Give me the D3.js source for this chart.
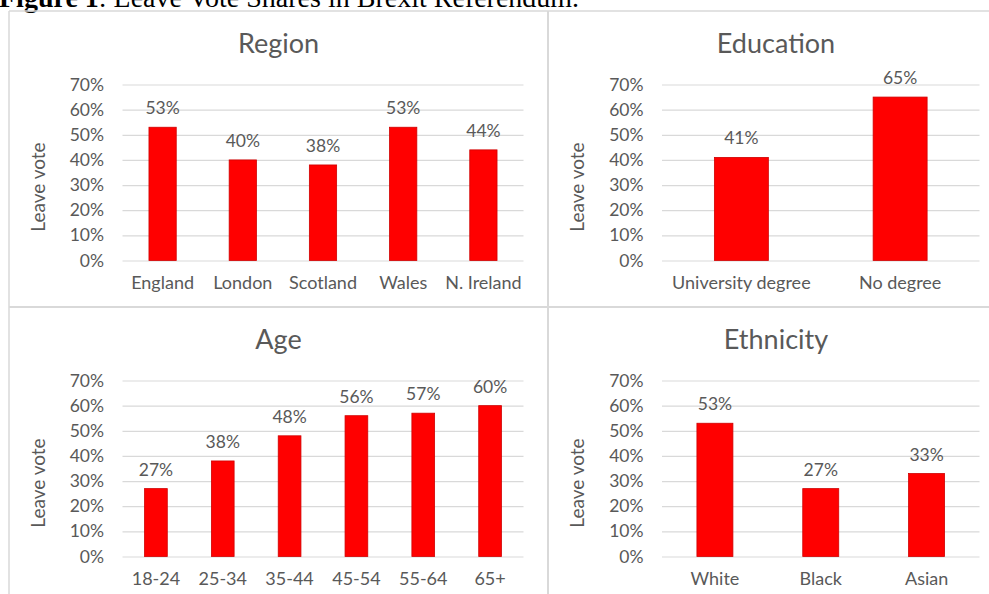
<!DOCTYPE html>
<html>
<head>
<meta charset="utf-8">
<script src="https://cdn.jsdelivr.net/npm/d3@7"></script>
<style>
  body { margin: 0; background: #fff; }
  svg { display: block; }
</style>
</head>
<body>
<div id="chart"></div>
<script>
// chart values
const regionCats = ["England", "London", "Scotland", "Wales", "N. Ireland"];
const regionVals = [53, 40, 38, 53, 44];
const eduCats = ["University degree", "No degree"];
const eduVals = [41, 65];
const ageCats = ["18-24", "25-34", "35-44", "45-54", "55-64", "65+"];
const ageVals = [27, 38, 48, 56, 57, 60];
const ethCats = ["White", "Black", "Asian"];
const ethVals = [53, 27, 33];
const yTicks = [0, 10, 20, 30, 40, 50, 60, 70];

let width = 989;
let height = 594;
let textColor = "#595959";
let font = "Lato, 'Open Sans', sans-serif";

let svg = d3.select('#chart')
  .append('svg')
  .attr('width', width)
  .attr('height', height);

// figure caption, cut off by the top edge like in the scan
let caption = svg.append('text')
  .attr('x', -1)
  .attr('y', 7)
  .style('font-family', "'Liberation Serif', 'Times New Roman', serif")
  .style('font-size', '28px')
  .style('fill', '#000');
caption.append('tspan').style('font-weight', 'bold').text('Figure 1');
caption.append('tspan').text(': Leave Vote Shares in Brexit Referendum.');

// panel grid lines
let gridColor = "#d9d9d9";
svg.append('line').attr('x1', 9).attr('x2', 989).attr('y1', 11).attr('y2', 11)
  .style('stroke', gridColor).style('stroke-width', 1.5);
svg.append('line').attr('x1', 9).attr('x2', 989).attr('y1', 307).attr('y2', 307)
  .style('stroke', gridColor).style('stroke-width', 2);
svg.append('line').attr('x1', 9).attr('x2', 9).attr('y1', 11).attr('y2', 594)
  .style('stroke', gridColor).style('stroke-width', 1.5);
svg.append('line').attr('x1', 548).attr('x2', 548).attr('y1', 11).attr('y2', 594)
  .style('stroke', gridColor).style('stroke-width', 2);

let panels = [
  { title: "Region", cats: regionCats, vals: regionVals, cx: 278.5, x0: 122.5, x1: 523.5, top: 0 },
  { title: "Education", cats: eduCats, vals: eduVals, cx: 776, x0: 662, x1: 979.5, top: 0 },
  { title: "Age", cats: ageCats, vals: ageVals, cx: 278.5, x0: 122.5, x1: 523.5, top: 296 },
  { title: "Ethnicity", cats: ethCats, vals: ethVals, cx: 776, x0: 662, x1: 979.5, top: 296 }
];

panels.forEach(p => {
  let yTop = 84.5 + p.top;
  let yBot = 260.5 + p.top;

  let x = d3.scaleBand()
    .domain(p.cats)
    .range([p.x0, p.x1])
    .paddingInner(0.66)
    .paddingOuter(0.33);

  let y = d3.scaleLinear()
    .domain([0, 70])
    .range([yBot, yTop]);

  let g = svg.append('g');

  // title
  g.append('text')
    .attr('x', p.cx)
    .attr('y', 53 + p.top)
    .attr('text-anchor', 'middle')
    .style('font-family', font)
    .style('font-size', '27px')
    .style('fill', textColor)
    .text(p.title);

  // y axis (labels + gridlines)
  let yAxis = d3.axisLeft(y)
    .tickValues(yTicks)
    .tickFormat(d => d + '%')
    .tickSize(-(p.x1 - p.x0))
    .tickPadding(18.5);

  let ya = g.append('g')
    .attr('transform', 'translate(' + p.x0 + ',0)')
    .call(yAxis);
  ya.select('.domain').remove();
  ya.selectAll('line').style('stroke', gridColor).style('stroke-width', 1.2);
  ya.selectAll('text')
    .style('font-family', font)
    .style('font-size', '17.5px')
    .style('fill', textColor);

  // x axis labels
  let xAxis = d3.axisBottom(x).tickSize(0).tickPadding(15.5);
  let xa = g.append('g')
    .attr('transform', 'translate(0,' + yBot + ')')
    .call(xAxis);
  xa.select('.domain').remove();
  xa.selectAll('text')
    .style('font-family', font)
    .style('font-size', '18px')
    .style('fill', textColor);

  // axis title
  g.append('text')
    .attr('transform', 'translate(' + (p.x0 - 78) + ',' + (187 + p.top) + ') rotate(-90)')
    .attr('text-anchor', 'middle')
    .style('font-family', font)
    .style('font-size', '19px')
    .style('fill', textColor)
    .text('Leave vote');

  let data = p.cats.map((c, i) => ({ cat: c, val: p.vals[i] }));

  // bars
  g.selectAll('rect.bar')
    .data(data)
    .enter()
    .append('rect')
    .attr('class', 'bar')
    .attr('x', d => x(d.cat))
    .attr('y', d => y(d.val))
    .attr('width', x.bandwidth())
    .attr('height', d => yBot - y(d.val))
    .style('fill', '#ff0000')
    .style('stroke', '#d00000')
    .style('stroke-width', 0.8);

  // value labels
  g.selectAll('text.val')
    .data(data)
    .enter()
    .append('text')
    .attr('class', 'val')
    .attr('x', d => x(d.cat) + x.bandwidth() / 2)
    .attr('y', d => y(d.val) - 13)
    .attr('text-anchor', 'middle')
    .style('font-family', font)
    .style('font-size', '17.5px')
    .style('fill', textColor)
    .text(d => d.val + '%');
});
</script>
</body>
</html>
